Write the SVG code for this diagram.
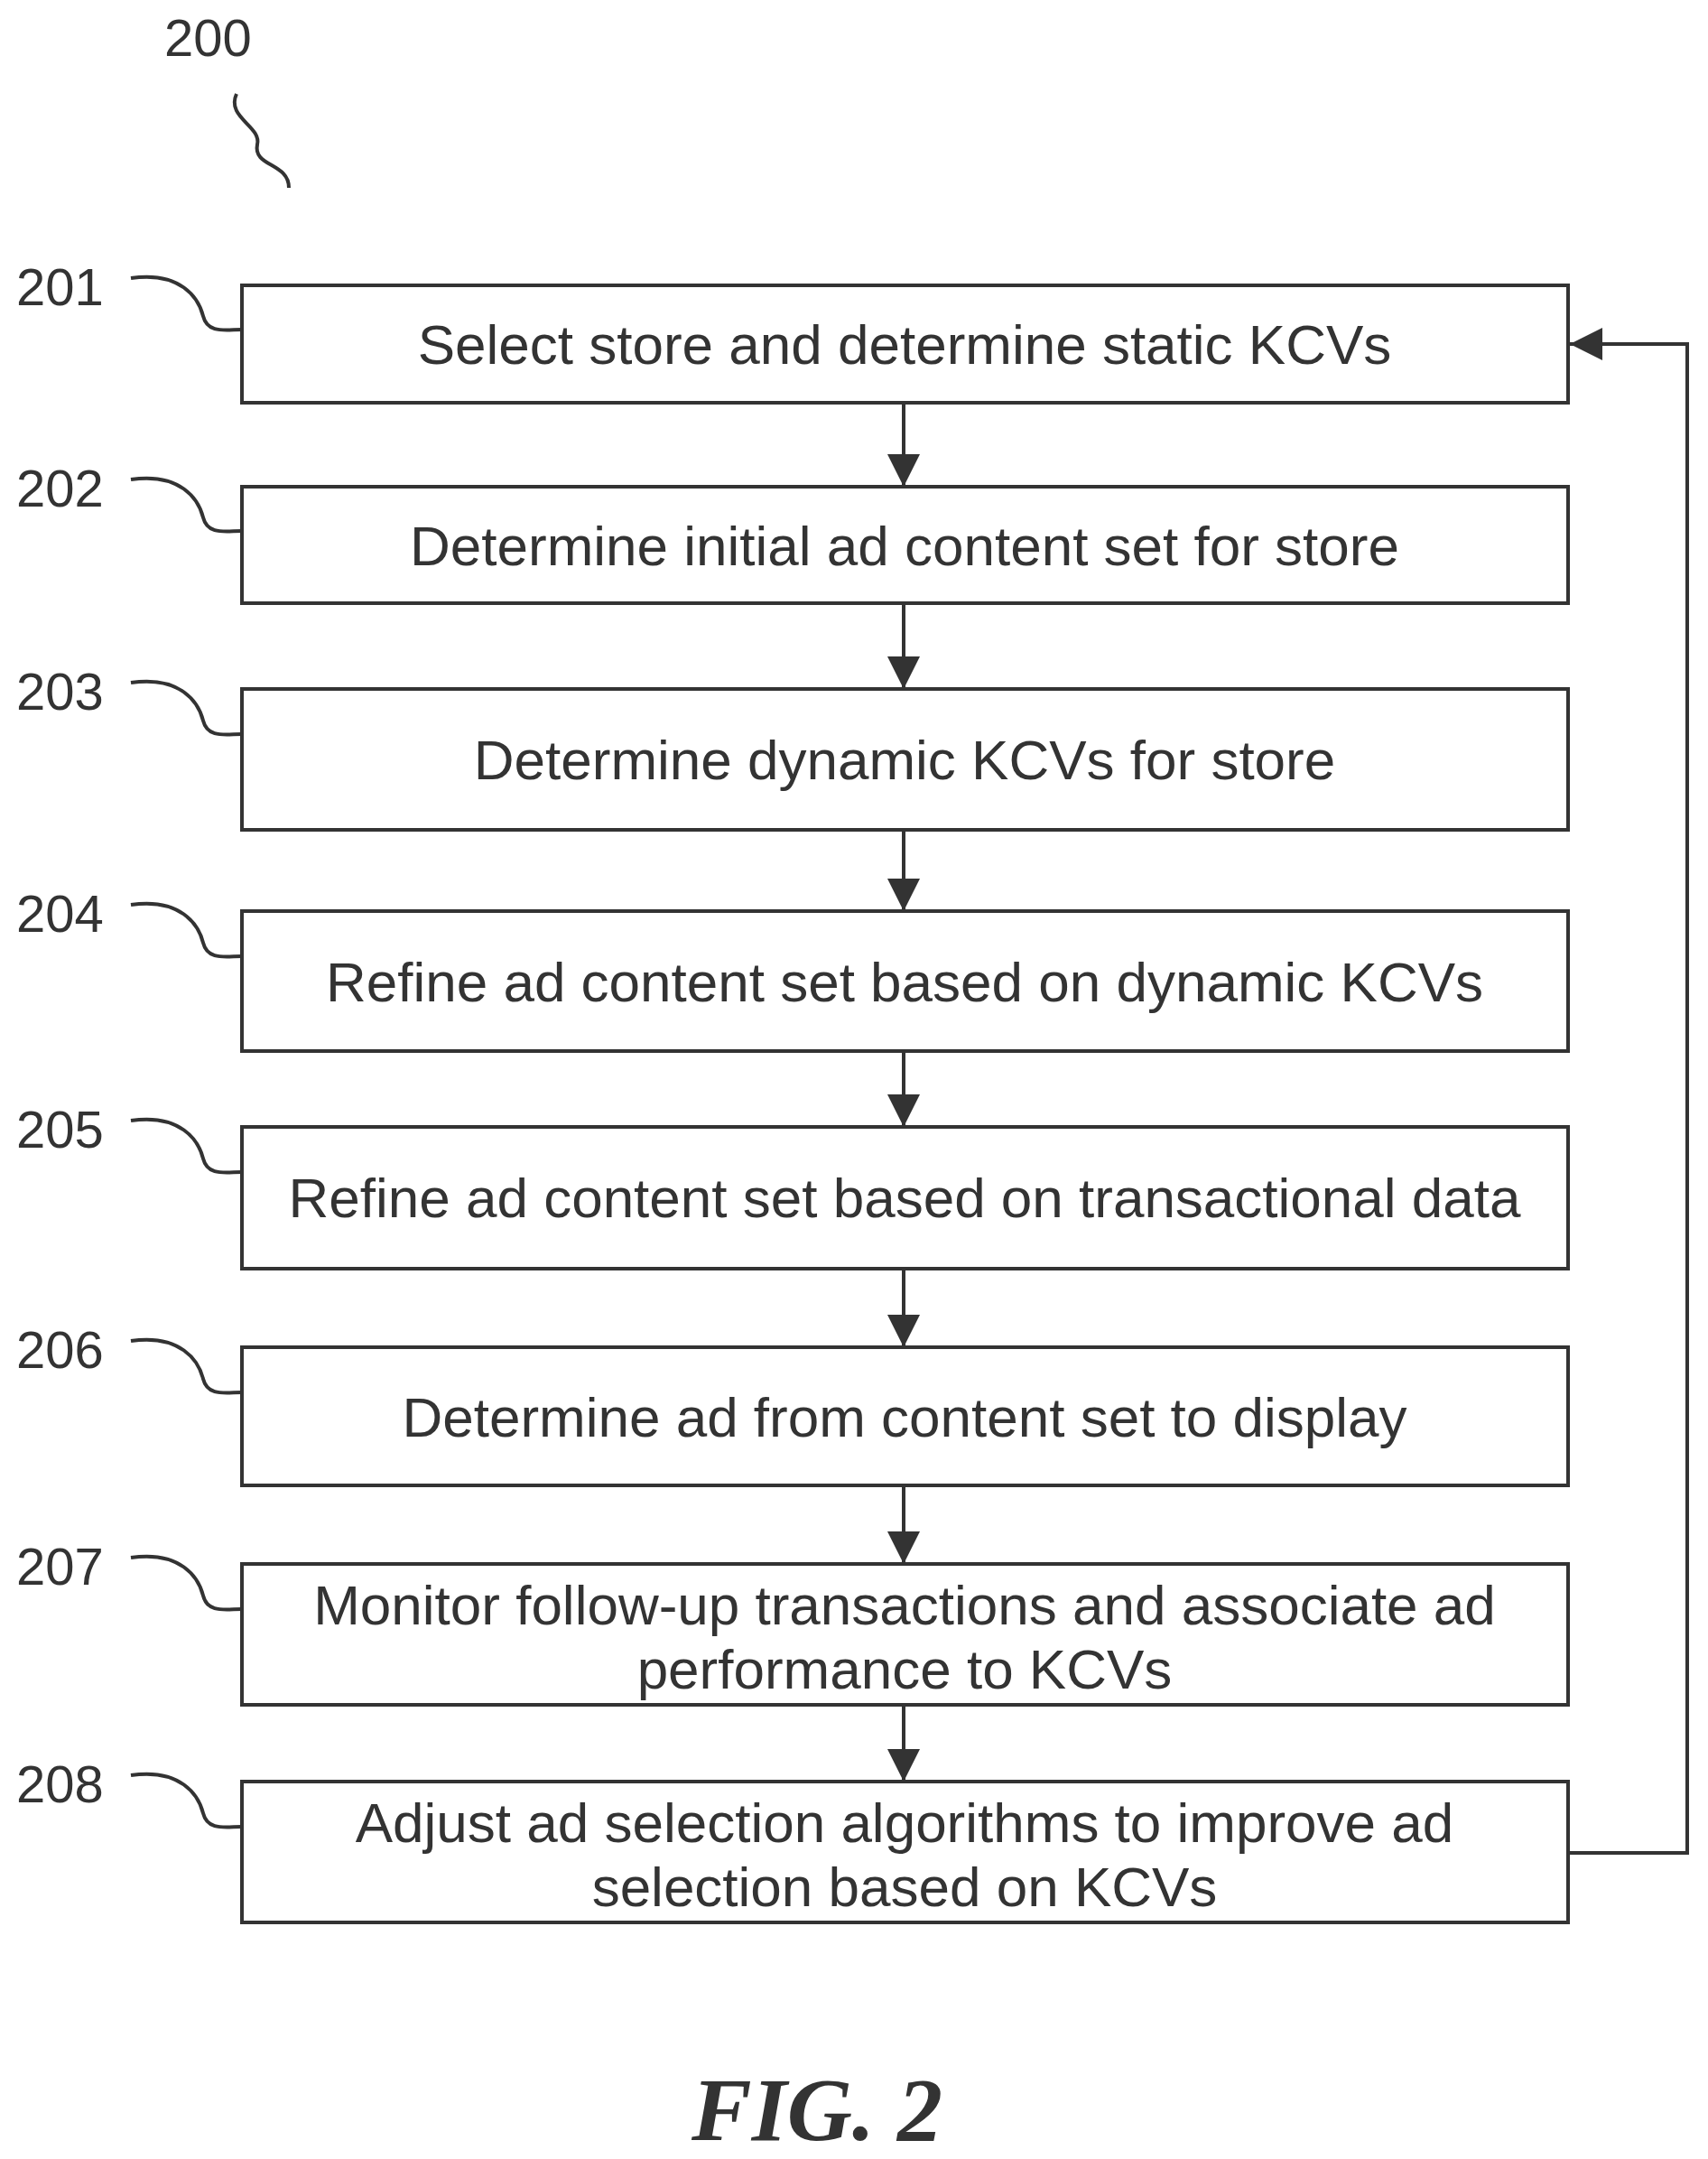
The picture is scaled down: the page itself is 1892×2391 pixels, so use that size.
<svg xmlns="http://www.w3.org/2000/svg" width="1892" height="2391" viewBox="0 0 1892 2391">
<defs>
<style>
.b{fill:#fff;stroke:#333;stroke-width:4}
.t{font-family:"Liberation Sans",Arial,sans-serif;font-size:62px;fill:#333;text-anchor:middle}
.n{font-family:"Liberation Sans",Arial,sans-serif;font-size:58px;fill:#333}
.c{fill:none;stroke:#333;stroke-width:4}
</style>
<marker id="ah" viewBox="0 0 10 10" refX="10" refY="5" markerWidth="9" markerHeight="9" orient="auto"><path d="M0,0L10,5L0,10z" fill="#333"/></marker>
</defs>
<rect width="1892" height="2391" fill="#fff"/>
<text class="n" x="182" y="62">200</text>
<path class="c" d="M262,104 C250,130 290,140 285,160 C280,185 320,180 320,208"/>
<g id="connectors">
<line class="c" x1="1001" y1="446" x2="1001" y2="539" marker-end="url(#ah)"/>
<line class="c" x1="1001" y1="668" x2="1001" y2="763" marker-end="url(#ah)"/>
<line class="c" x1="1001" y1="919" x2="1001" y2="1009" marker-end="url(#ah)"/>
<line class="c" x1="1001" y1="1164" x2="1001" y2="1248" marker-end="url(#ah)"/>
<line class="c" x1="1001" y1="1405" x2="1001" y2="1492" marker-end="url(#ah)"/>
<line class="c" x1="1001" y1="1645" x2="1001" y2="1732" marker-end="url(#ah)"/>
<line class="c" x1="1001" y1="1888" x2="1001" y2="1973" marker-end="url(#ah)"/>
<polyline class="c" points="1737,2052 1869,2052 1869,381 1739,381" marker-end="url(#ah)"/>
</g>
<g id="n201"><rect class="b" x="268" y="316" width="1469" height="130"/><text class="t" x="1002" y="403">Select store and determine static KCVs</text><text class="n" x="18" y="338">201</text><path class="c" d="M145,308 C200,300 220,330 225,350 C230,370 250,365 268,365"/></g>
<g id="n202"><rect class="b" x="268" y="539" width="1469" height="129"/><text class="t" x="1002" y="626">Determine initial ad content set for store</text><text class="n" x="18" y="561">202</text><path class="c" d="M145,531 C200,523 220,553 225,573 C230,593 250,588 268,588"/></g>
<g id="n203"><rect class="b" x="268" y="763" width="1469" height="156"/><text class="t" x="1002" y="863">Determine dynamic KCVs for store</text><text class="n" x="18" y="786">203</text><path class="c" d="M145,756 C200,748 220,778 225,798 C230,818 250,813 268,813"/></g>
<g id="n204"><rect class="b" x="268" y="1009" width="1469" height="155"/><text class="t" x="1002" y="1109">Refine ad content set based on dynamic KCVs</text><text class="n" x="18" y="1032">204</text><path class="c" d="M145,1002 C200,994 220,1024 225,1044 C230,1064 250,1059 268,1059"/></g>
<g id="n205"><rect class="b" x="268" y="1248" width="1469" height="157"/><text class="t" x="1002" y="1348">Refine ad content set based on transactional data</text><text class="n" x="18" y="1271">205</text><path class="c" d="M145,1241 C200,1233 220,1263 225,1283 C230,1303 250,1298 268,1298"/></g>
<g id="n206"><rect class="b" x="268" y="1492" width="1469" height="153"/><text class="t" x="1002" y="1591">Determine ad from content set to display</text><text class="n" x="18" y="1515">206</text><path class="c" d="M145,1485 C200,1477 220,1507 225,1527 C230,1547 250,1542 268,1542"/></g>
<g id="n207"><rect class="b" x="268" y="1732" width="1469" height="156"/><text class="t" x="1002" y="1799">Monitor follow-up transactions and associate ad</text><text class="t" x="1002" y="1870">performance to KCVs</text><text class="n" x="18" y="1755">207</text><path class="c" d="M145,1725 C200,1717 220,1747 225,1767 C230,1787 250,1782 268,1782"/></g>
<g id="n208"><rect class="b" x="268" y="1973" width="1469" height="156"/><text class="t" x="1002" y="2040">Adjust ad selection algorithms to improve ad</text><text class="t" x="1002" y="2111">selection based on KCVs</text><text class="n" x="18" y="1996">208</text><path class="c" d="M145,1966 C200,1958 220,1988 225,2008 C230,2028 250,2023 268,2023"/></g>
<text x="905" y="2370" font-family="Liberation Serif,serif" font-style="italic" font-weight="bold" font-size="100" fill="#333" text-anchor="middle">FIG. 2</text>
</svg>
